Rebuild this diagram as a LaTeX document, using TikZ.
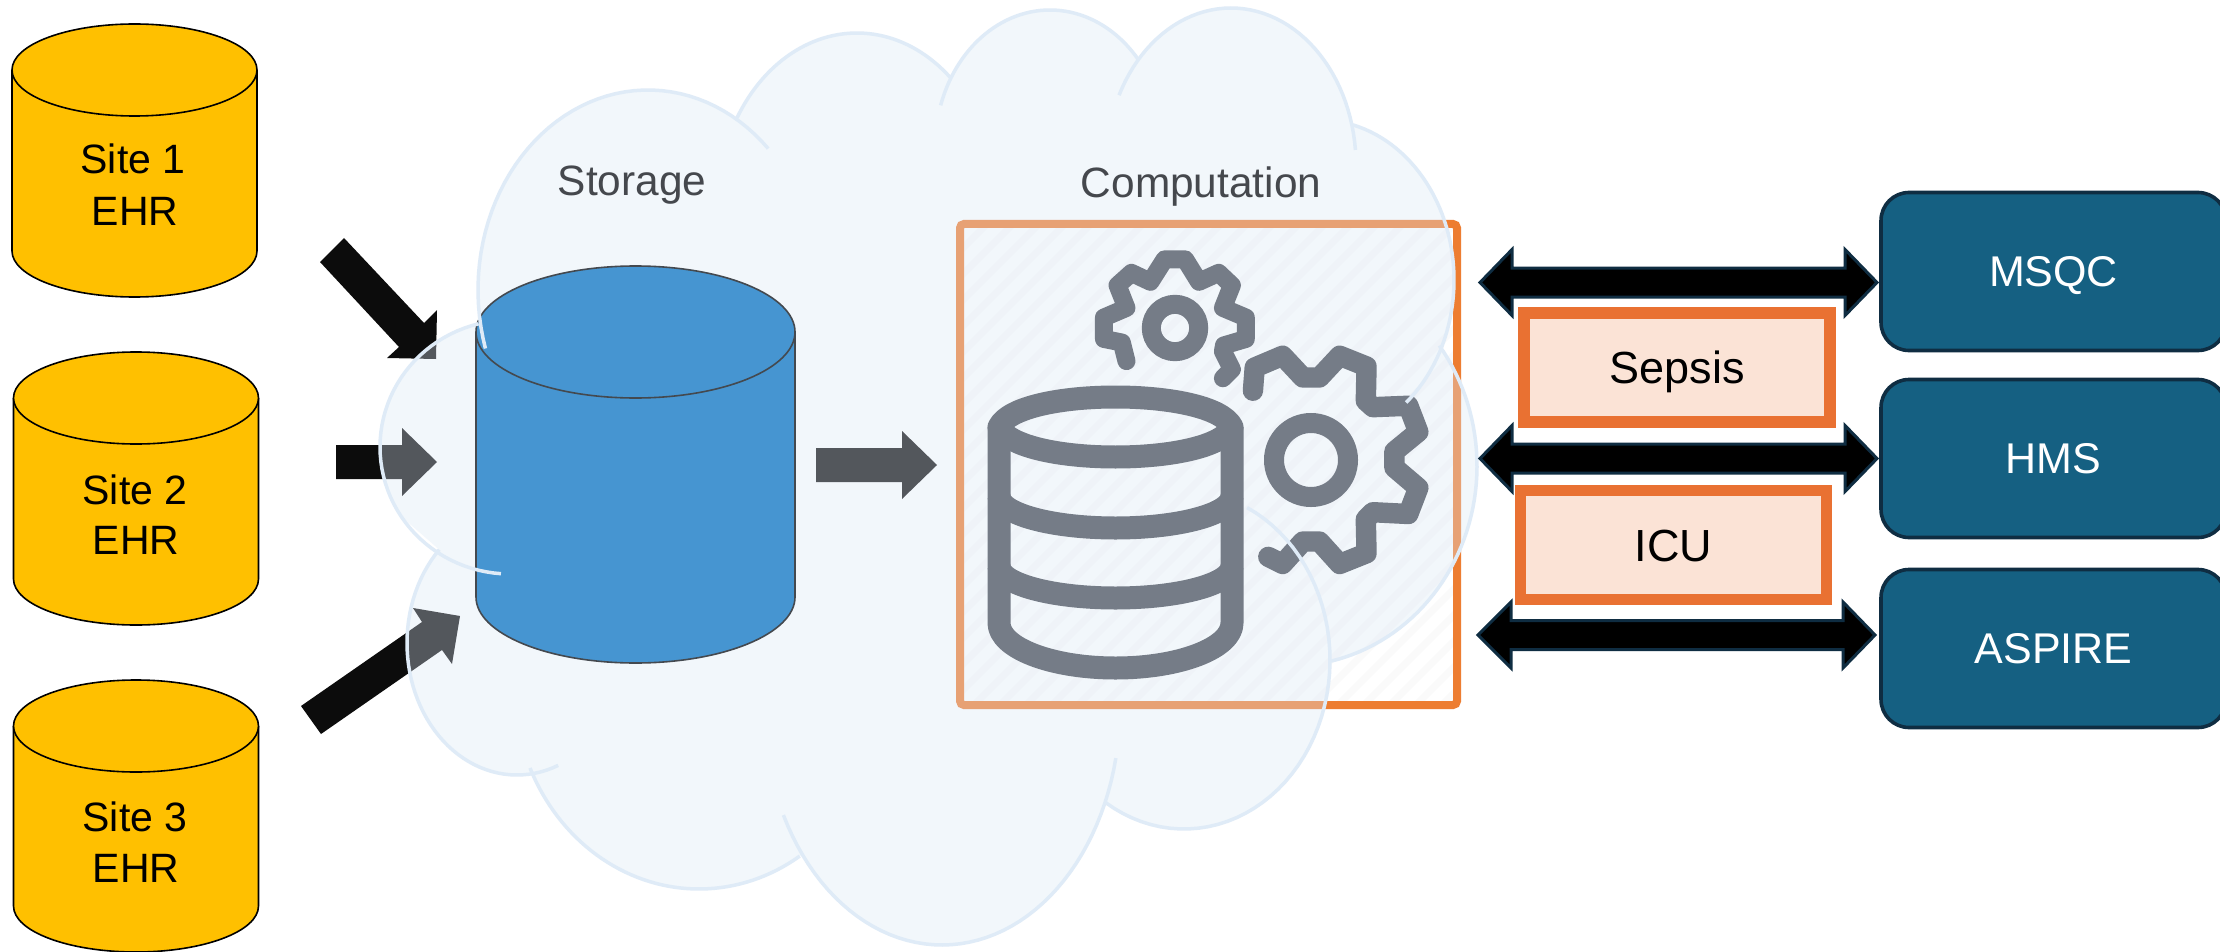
\documentclass[tikz,border=0pt]{standalone}
\usepackage{fontspec}
\setmainfont{Liberation Sans}
\definecolor{sitefill}{HTML}{FFC000}
\definecolor{cloudtint}{HTML}{DCE8F6}
\definecolor{cloudline}{HTML}{DFEBF7}
\definecolor{bluefill}{HTML}{4695D1}
\definecolor{bluedraw}{HTML}{44494F}
\definecolor{orangeline}{HTML}{ED7D31}
\definecolor{tagline}{HTML}{E97132}
\definecolor{tagfill}{HTML}{FBE3D6}
\definecolor{iconcol}{HTML}{757C87}
\definecolor{labelcol}{HTML}{45484D}
\definecolor{teal}{HTML}{156082}
\definecolor{tealdark}{HTML}{0F2D42}
\definecolor{nearblack}{HTML}{0C0C0C}
\definecolor{hatchcol}{HTML}{FAFAFA}
\newcommand{\pxfont}[1]{\fontsize{#1}{#1}\selectfont}
% one bump of the cloud: an elliptical arc, angles decreasing
\newcommand{\lobe}[6]{plot[domain=#5:#6,samples=50,variable=\t] ({#1+#3*cos(\t)},{#2-#4*sin(\t)})}
\newcommand{\lobeto}[6]{-- plot[domain=#5:#6,samples=50,variable=\t] ({#1+#3*cos(\t)},{#2-#4*sin(\t)})}
\newcommand{\cyl}[6]{% cx, top cy, bottom cy, rx, ry, style
  \path[#6,draw=none] (#1-#4,#2) rectangle (#1+#4,#3);
  \path[#6,draw=none] (#1,#3) ellipse [x radius=#4,y radius=#5];
  \draw[#6,fill=none] (#1-#4,#2) -- (#1-#4,#3) arc[start angle=180,end angle=0,x radius=#4,y radius=#5] -- (#1+#4,#2);
  \path[#6] (#1,#2) ellipse [x radius=#4,y radius=#5];}
\newcommand{\dblarrow}[5]{% xl tip, xl barb, xr barb, xr tip, yc
  \path[dblstyle] (#1,#5) -- (#2,#5-33) -- (#2,#5-14.5) -- (#3,#5-14.5) -- (#3,#5-33) -- (#4,#5)
    -- (#3,#5+33) -- (#3,#5+14.5) -- (#2,#5+14.5) -- (#2,#5+33) -- cycle;}
\tikzset{
  x=0.5pt,y=-0.5pt,
  sitecyl/.style={fill=sitefill,draw=black,line width=0.8pt},
  bluecyl/.style={fill=bluefill,draw=bluedraw,line width=0.8pt},
  sitetext/.style={anchor=base,text=black,inner sep=0pt,font=\pxfont{20.5}},
  cloudtext/.style={anchor=base,text=labelcol,inner sep=0pt,font=\pxfont{21.2}},
  hubbox/.style={draw=tealdark,fill=teal,line width=1.8pt,rounded corners=14pt,text=white,font=\pxfont{21.5},
    minimum width=172.5pt,minimum height=79pt,inner sep=0pt,text height=15.4pt,text depth=0pt},
  tagbox/.style={draw=tagline,fill=tagfill,line width=5.8pt,text=black,font=\pxfont{22.5},
    minimum width=153pt,minimum height=54.5pt,inner sep=0pt,text height=16pt,text depth=0pt},
  dblstyle/.style={fill=black,draw=tealdark,line width=1.5pt,miter limit=10},
  flowarrow/.style={fill=nearblack},
  cloudstroke/.style={draw=cloudline,line width=1.75pt,line cap=butt},
  iconline/.style={draw=iconcol,line join=round,line cap=round},
}
\begin{document}
\begin{tikzpicture}
\useasboundingbox[fill=white] (0,0) rectangle (2220,952);
% site cylinders
\cyl{134.5}{70}{251}{122.5}{46}{sitecyl}
\cyl{136}{398}{579}{122.5}{46}{sitecyl}
\cyl{136}{726}{906}{122.5}{46}{sitecyl}
\node[sitetext] (site1a) at (133,174) {Site 1};
\node[sitetext] (site1b) at (135,226) {EHR};
\node[sitetext] (site2a) at (135,504) {Site 2};
\node[sitetext] (site2b) at (136,554) {EHR};
\node[sitetext] (site3a) at (135,831) {Site 3};
\node[sitetext] (site3b) at (136,882) {EHR};
% computation frame
\begin{scope}
\clip (960,224) rectangle (1457,705);
\fill[white] (960,224) rectangle (1457,705);
\foreach \hx in {480,506,...,1480}
  \draw[hatchcol,line width=3.5pt] (\hx,705) -- (\hx+481,224);
\end{scope}
\draw[orangeline,line width=4pt,rounded corners=2pt] (960,224) rectangle (1457,705);
% arrows under the cloud
\path[flowarrow] (344,238) -- (320,262) -- (399,347) -- (387,358) -- (436,359) -- (437,310) -- (424,323) -- cycle;
\path[flowarrow] (336,445) -- (402,445) -- (402,428) -- (437,462) -- (402,496) -- (402,479) -- (336,479) -- cycle;
\path[flowarrow] (301,706) -- (321,734) -- (442,650) -- (452,664) -- (460,616) -- (413,608) -- (422,622) -- cycle;
\path[flowarrow] (816,448) -- (902,448) -- (902,431) -- (937,465) -- (902,499) -- (902,482) -- (816,482) -- cycle;
% cloud fill
\fill[cloudtint,fill opacity=0.345]
  \lobe{648}{290}{170}{200}{188}{58.5}
  \lobeto{857}{208}{140}{175}{149}{48.4}
  \lobeto{1050}{148}{115}{138}{150.5}{40}
  \lobeto{1231}{165}{125}{157}{138}{14.8}
  \lobeto{1320}{280}{134}{160}{75.8}{-23}
  \lobeto{1290}{466}{187}{200}{37}{-77.3}
  \lobeto{1184}{660}{146}{169}{0}{-122.3}
  \lobeto{942}{707}{178}{238}{-23.6}{-141.5}
  \lobeto{699}{685}{185}{204}{-57}{-156}
  \lobeto{517}{643}{110}{132}{-83}{-225}
  \lobeto{510}{447}{130}{127}{-147}{-256}
  -- cycle;
% storage cylinder
\cyl{635.5}{332}{597}{159.5}{66}{bluecyl}
% database icon
\begin{scope}[iconline,line width=11.5pt,line cap=butt]
\draw (999,427) .. controls (1018,387) and (1213,387) .. (1232,427)
      .. controls (1213,467) and (1018,467) .. cycle;
\draw (999,427) -- (999,623) arc[start angle=180,end angle=0,x radius=116.5,y radius=45] -- (1232,427);
\draw (999,496) arc[start angle=180,end angle=0,x radius=116.5,y radius=32];
\draw (999,566) arc[start angle=180,end angle=0,x radius=116.5,y radius=32];
\end{scope}
% small gear
\draw[iconcol,line width=9.5pt] (1175,328) circle [radius=23.7];
\draw[iconline,line width=9pt,xshift=920*0.5pt,yshift=-180*0.5pt,x=0.1786pt,y=-0.1786pt]
  (578,507) -- (565,455) -- (515,445) -- (515,385) -- (578,358) -- (553,295) -- (592,260) -- (645,285)
  -- (685,222) -- (742,222) -- (781,285) -- (836,260) -- (873,295) -- (848,358) -- (912,385)
  -- (912,445) -- (851,463) -- (848,480) -- (873,530) -- (848,555);
% large gear
\draw[iconcol,line width=10pt] (1311,460) circle [radius=37];
\draw[iconline,line width=10.2pt,xshift=920*0.5pt,yshift=-180*0.5pt,x=0.1786pt,y=-0.1786pt]
  (932,590) -- (937,525) -- (1015,492) -- (1072,553) -- (1118,553) -- (1175,492) -- (1250,522)
  -- (1248,618) -- (1268,636) -- (1367,632) -- (1395,705) -- (1328,760) -- (1328,805) -- (1395,862)
  -- (1367,935) -- (1268,930) -- (1248,950) -- (1250,1045) -- (1175,1075) -- (1118,1012)
  -- (1072,1012) -- (1015,1075) -- (975,1055);
% cloud outline with its overshooting ends
\draw[cloudstroke] \lobe{648}{290}{170}{200}{197}{45};
\draw[cloudstroke] \lobe{857}{208}{140}{175}{149}{48.4};
\draw[cloudstroke] \lobe{1050}{148}{115}{138}{162}{40};
\draw[cloudstroke] \lobe{1231}{165}{125}{157}{153.6}{5.5};
\draw[cloudstroke] \lobe{1320}{280}{134}{160}{75.8}{-50};
\draw[cloudstroke] \lobe{1290}{466}{187}{200}{37}{-77.3};
\draw[cloudstroke] \lobe{1184}{660}{146}{169}{64.4}{-122.3};
\draw[cloudstroke] \lobe{942}{707}{178}{238}{-12.4}{-153};
\draw[cloudstroke] \lobe{699}{685}{185}{204}{-57}{-156};
\draw[cloudstroke] \lobe{517}{643}{110}{132}{-68}{-225};
\draw[cloudstroke] \lobe{510}{447}{130}{127}{-94}{-256};
% cloud labels
\node[cloudtext] (storage) at (632,196) {Storage};
\node[cloudtext] (computation) at (1201,198) {Computation};
% double arrows
\dblarrow{1480}{1512}{1845}{1877}{282.5}
\dblarrow{1480}{1512}{1845}{1877}{458.5}
\dblarrow{1478}{1511}{1843}{1875}{635}
% right-hand boxes
\node[tagbox] (sepsis) at (1677,367.5) {Sepsis};
\node[tagbox] (icu) at (1673.5,545) {ICU};
\node[hubbox] (msqc) at (2053.5,271.5) {MSQC};
\node[hubbox] (hms) at (2053.5,458.5) {HMS};
\node[hubbox] (aspire) at (2053.5,648.5) {ASPIRE};
\end{tikzpicture}
\end{document}
